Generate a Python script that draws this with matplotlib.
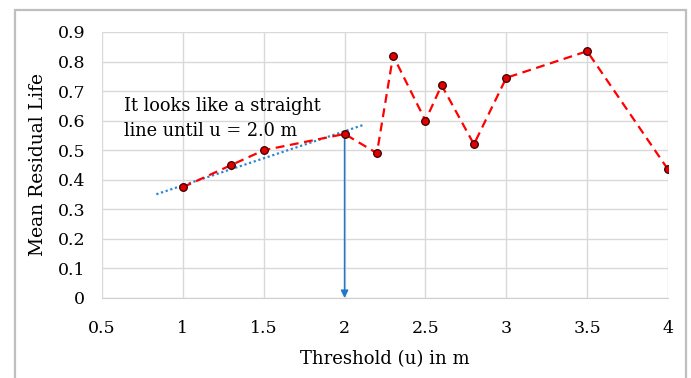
import matplotlib
matplotlib.use("Agg")
import matplotlib.pyplot as plt
from matplotlib.patches import Rectangle

# Data
thresholds = [1.0, 1.3, 1.5, 2.0, 2.2, 2.3, 2.5, 2.6, 2.8, 3.0, 3.5, 4.0]
mrl = [0.375, 0.45, 0.50, 0.555, 0.49, 0.82, 0.60, 0.72, 0.52, 0.745, 0.835, 0.435]
trend_x = [0.836, 2.113]
trend_y = [0.351, 0.585]
arrow_x = 2.0
arrow_y_start = 0.555
arrow_y_end = 0.0
x_ticks = [0.5, 1, 1.5, 2, 2.5, 3, 3.5, 4]
x_tick_labels = ["0.5", "1", "1.5", "2", "2.5", "3", "3.5", "4"]
y_ticks = [0, 0.1, 0.2, 0.3, 0.4, 0.5, 0.6, 0.7, 0.8, 0.9]
y_tick_labels = ["0", "0.1", "0.2", "0.3", "0.4", "0.5", "0.6", "0.7", "0.8", "0.9"]
note = "It looks like a straight\nline until u = 2.0 m"

plt.rcParams['font.family'] = ['DejaVu Serif']

W, H = 691, 378
fig = plt.figure(figsize=(W / 100, H / 100), dpi=100)
fig.patch.set_facecolor("white")

# outer frame
fig.patches.append(Rectangle((15 / W, -0.05), (686 - 15) / W, 1.05 - 10 / H,
                             transform=fig.transFigure, fill=False,
                             edgecolor="#bfbfbf", linewidth=1.6, zorder=0))

ax = fig.add_axes([102 / W, 1 - 298 / H, (668 - 102) / W, (298 - 32) / H])
ax.set_xlim(0.5, 4)
ax.set_ylim(0, 0.9)
ax.set_xticks(x_ticks)
ax.set_xticklabels(x_tick_labels)
ax.set_yticks(y_ticks)
ax.set_yticklabels(y_tick_labels)
ax.grid(True, color="#d9d9d9", linewidth=1.0)
ax.set_axisbelow(True)
for s in ax.spines.values():
    s.set_visible(False)
ax.spines['bottom'].set_visible(True)
ax.spines['bottom'].set_color("#d0d0d0")
ax.tick_params(length=0, labelsize=12.5, colors="#000000")
ax.tick_params(axis='x', pad=16)
ax.tick_params(axis='y', pad=12)

ax.plot(trend_x, trend_y, linestyle=(0, (1, 1.2)), color="#2e86d1", linewidth=1.6, zorder=2)
ax.plot(thresholds, mrl, linestyle=(0, (4, 2.5)), color="#ff0000", linewidth=1.6,
        marker='o', markersize=5.5, markerfacecolor="#e00000",
        markeredgecolor="#3a0000", markeredgewidth=0.9, zorder=3)

ax.annotate("", xy=(arrow_x, arrow_y_end), xytext=(arrow_x, arrow_y_start),
            arrowprops=dict(arrowstyle="-|>", color="#1f78c8", lw=1.1,
                            mutation_scale=11, shrinkA=0, shrinkB=0), zorder=2)

ax.text(0.635, 0.68, note, fontsize=12.8, va="top", ha="left", linespacing=1.5, zorder=4)

ax.set_xlabel("Threshold (u) in m", fontsize=13, labelpad=9)
ax.set_ylabel("Mean Residual Life", fontsize=13.5, labelpad=8)

fig.savefig("out.png", dpi=100)
